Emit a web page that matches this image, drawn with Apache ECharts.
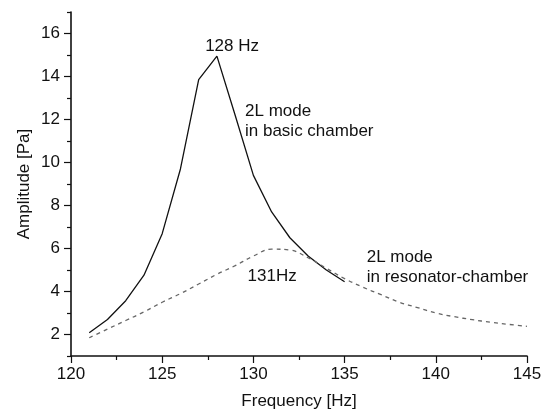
<!DOCTYPE html>
<html><head><meta charset="utf-8">
<script src="https://cdn.jsdelivr.net/npm/echarts@6/dist/echarts.min.js"></script>
<style>html,body{margin:0;padding:0;background:#fff}#c{width:551px;height:416px}</style>
</head><body><div id="c"></div>
<script>
// Solid curve: 2L mode in basic chamber
const basicFreq = [121,122,123,124,125,126,127,128,129,130,131,132,133,134,135];
const basicAmp  = [2.08,2.7,3.57,4.76,6.69,9.7,13.85,14.95,12.2,9.4,7.7,6.5,5.65,5.0,4.45];
// Dashed curve: 2L mode in resonator-chamber
const resFreq = [121,122,123,124,125,126,127,128,129,130,131,132,133,134,135,136,137,138,139,140,141,142,143,144,145];
const resAmp  = [1.85,2.25,2.65,3.05,3.5,3.9,4.35,4.8,5.2,5.65,5.97,5.93,5.57,5.08,4.6,4.2,3.85,3.5,3.25,3.0,2.83,2.69,2.57,2.47,2.38];
// Axis ticks
const xTicks = [120,125,130,135,140,145];
const yTicks = [2,4,6,8,10,12,14,16];
const yMinorTicks = [1,3,5,7,9,11,13,15,17];
// Annotations (text, anchor in data coordinates)
const annText  = ['128 Hz', '2L mode\nin basic chamber', '131Hz', '2L mode\nin resonator-chamber'];
const annFreq  = [128.83, 129.54, 129.68, 136.21];
const annAmp   = [15.39, 11.93, 4.71, 5.13];
const annAlign = ['center', 'left', 'left', 'left'];

const FONT = 'Liberation Sans, Arial, sans-serif';
const chart = echarts.init(document.getElementById('c'), null, {renderer: 'canvas'});

chart.setOption({
  animation: false,
  backgroundColor: '#fff',
  grid: {left: 71, right: 24, top: 12, bottom: 60, containLabel: false, outerBoundsMode: 'none'},
  xAxis: {
    type: 'value', min: xTicks[0], max: xTicks[xTicks.length - 1], interval: 5,
    name: 'Frequency [Hz]', nameLocation: 'middle', nameGap: 37, nameMoveOverlap: false,
    nameTextStyle: {fontFamily: FONT, fontSize: 17, color: '#111'},
    axisLine: {show: true, onZero: false, lineStyle: {color: '#111', width: 1.6}},
    axisTick: {show: true, inside: false, length: 7, lineStyle: {color: '#111', width: 1.2}},
    minorTick: {show: true, splitNumber: 2, length: 4, lineStyle: {color: '#111', width: 1.2}},
    axisLabel: {fontFamily: FONT, fontSize: 17, color: '#111', margin: 10},
    splitLine: {show: false}
  },
  yAxis: [{
    type: 'value', min: 1, max: 17, interval: 1,
    name: 'Amplitude [Pa]', nameLocation: 'middle', nameGap: 38, nameRotate: 90, nameMoveOverlap: false,
    nameTextStyle: {fontFamily: FONT, fontSize: 17, color: '#111'},
    axisLine: {show: true, onZero: false, lineStyle: {color: '#111', width: 1.6}},
    axisTick: {show: true, inside: false, length: 7, customValues: yTicks, lineStyle: {color: '#111', width: 1.2}},
    axisLabel: {fontFamily: FONT, fontSize: 17, color: '#111', margin: 11, customValues: yTicks},
    splitLine: {show: false}
  }, {
    type: 'value', min: 1, max: 17, interval: 1, position: 'left',
    axisLine: {show: false},
    axisTick: {show: true, inside: false, length: 4, customValues: yMinorTicks, lineStyle: {color: '#111', width: 1.2}},
    axisLabel: {show: false},
    splitLine: {show: false}
  }],
  series: [{
    type: 'line', yAxisIndex: 0,
    data: basicFreq.map((f, i) => [f, basicAmp[i]]),
    showSymbol: false, smooth: false,
    lineStyle: {color: '#111', width: 1.3}
  }, {
    type: 'line', yAxisIndex: 0,
    data: resFreq.map((f, i) => [f, resAmp[i]]),
    showSymbol: false, smooth: 0.4,
    lineStyle: {color: '#666', width: 1.3, type: [4, 4]}
  }]
});

// Annotation texts placed at data coordinates via the chart's own scales
chart.setOption({
  graphic: annText.map((t, i) => {
    const p = chart.convertToPixel({gridIndex: 0}, [annFreq[i], annAmp[i]]);
    return {
      type: 'text', x: p[0], y: p[1], silent: true,
      style: {
        text: t, fill: '#111', font: '17px ' + FONT,
        align: annAlign[i], verticalAlign: 'middle', lineHeight: 20
      }
    };
  })
});
</script>
</body></html>
